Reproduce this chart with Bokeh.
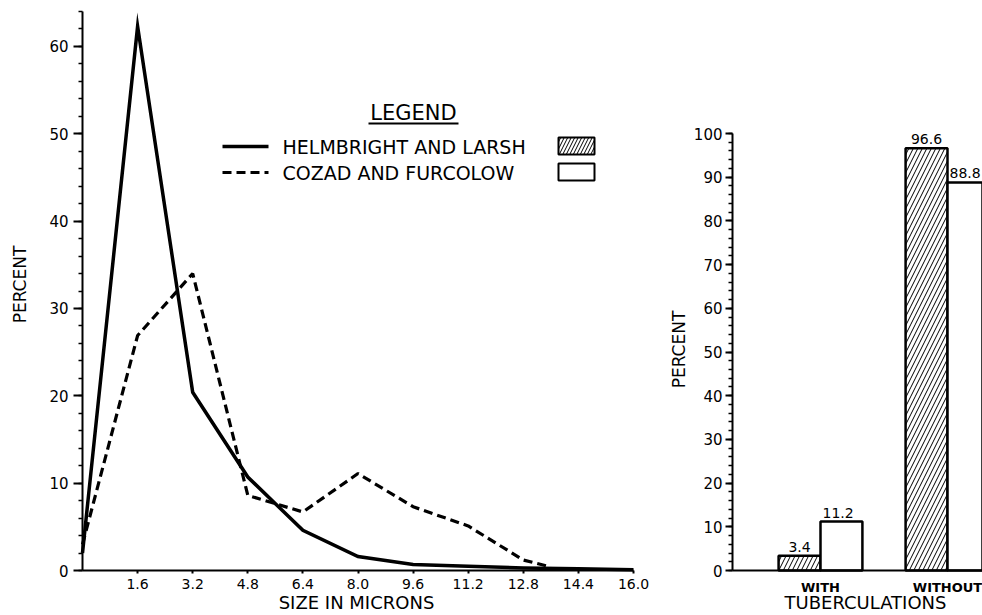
import math
from bokeh.plotting import figure
from bokeh.layouts import row
from bokeh.models import (FixedTicker, Range1d, ColumnDataSource, CustomJSTickFormatter)
from bokeh.core.properties import value
from bokeh.embed import file_html
from bokeh.resources import INLINE

# ---------------- data ----------------
SIZE_TICKS = [1.6, 3.2, 4.8, 6.4, 8.0, 9.6, 11.2, 12.8, 14.4, 16.0]
PCT_TICKS_LEFT = [0, 10, 20, 30, 40, 50, 60]
PCT_TICKS_RIGHT = [0, 10, 20, 30, 40, 50, 60, 70, 80, 90, 100]

HL_SIZE = [0.0, 1.6, 3.2, 4.8, 6.4, 8.0, 9.6, 11.2, 12.8, 14.4, 16.0]
HL_PCT = [2.0, 62.3, 20.4, 10.7, 4.6, 1.6, 0.7, 0.5, 0.3, 0.2, 0.1]

CF_SIZE = [0.0, 1.6, 3.2, 4.8, 6.4, 8.0, 9.6, 11.2, 12.8, 13.6]
CF_PCT = [3.0, 26.9, 34.0, 8.6, 6.7, 11.1, 7.3, 5.1, 1.2, 0.4]

GROUPS = ["WITH", "WITHOUT"]
GROUP_POS = [1, 2]
HL_TUB = [3.4, 96.6]
CF_TUB = [11.2, 88.8]

SERIES_NAMES = ["HELMBRIGHT AND LARSH", "COZAD AND FURCOLOW"]
X_TITLE_LEFT = "SIZE IN MICRONS"
X_TITLE_RIGHT = "TUBERCULATIONS"
Y_TITLE = "PERCENT"

FONT = "DejaVu Sans"
H = 615

# ---------------- left chart (frame = whole figure; axes drawn at fixed spots) ----------------
W1 = 660
PX_X0, PX_X16 = 82, 633        # pixel x of size 0 and 16
PX_Y0, PX_Y64 = 570, 11        # pixel y of percent 0 and 64
sx1 = (PX_X16 - PX_X0) / 16.0
sy1 = (PX_Y0 - PX_Y64) / 64.0
X1 = (-PX_X0 / sx1, 16 + (W1 - PX_X16) / sx1)
Y1 = (-(H - PX_Y0) / sy1, 64 + PX_Y64 / sy1)

p1 = figure(width=W1, height=H, x_range=Range1d(*X1), y_range=Range1d(*Y1),
            output_backend="svg", toolbar_location=None,
            min_border=0, min_border_left=0, min_border_right=0,
            min_border_top=0, min_border_bottom=0)
p1.outline_line_color = None
p1.grid.visible = False

def lx(px):
    return X1[0] + px / sx1
def ly(py):
    return Y1[1] - py / sy1

p1.line(HL_SIZE, HL_PCT, line_color="black", line_width=3.5, line_join="miter")
p1.line(CF_SIZE, CF_PCT, line_color="black", line_width=3.2, line_dash="9 5")

xa = p1.xaxis[0]
xa.fixed_location = 0
xa.bounds = (0, 16)
xa.ticker = FixedTicker(ticks=SIZE_TICKS)
xa.formatter = CustomJSTickFormatter(code="return tick.toFixed(1)")
xa.major_tick_out = 3
xa.major_tick_in = 0
xa.major_label_standoff = 5

ya = p1.yaxis[0]
ya.fixed_location = 0
ya.bounds = (0, 64)
ya.ticker = FixedTicker(ticks=PCT_TICKS_LEFT, minor_ticks=list(range(0, 65, 2)))
ya.major_tick_out = 9
ya.major_tick_in = 0
ya.minor_tick_out = 4
ya.minor_tick_in = 0
ya.major_label_standoff = 5

p1.text(x=[lx(356)], y=[ly(602)], text=[X_TITLE_LEFT], text_font=value(FONT),
        text_font_size="18px", text_align="center", text_baseline="middle",
        text_color="black")
p1.text(x=[lx(19)], y=[ly(284)], text=[Y_TITLE], text_font=value(FONT),
        text_font_size="17px", text_align="center", text_baseline="middle",
        angle=math.pi / 2, text_color="black")

# legend (hand-drawn, as in the original)
p1.text(x=[lx(413)], y=[ly(112)], text=["LEGEND"], text_font=value(FONT),
        text_font_size="21px", text_align="center", text_baseline="middle",
        text_color="black")
p1.line([lx(368), lx(458)], [ly(123), ly(123)], line_color="black", line_width=1.8)

row1, row2 = 146, 172
p1.line([lx(222), lx(268)], [ly(row1), ly(row1)], line_color="black", line_width=3.5)
p1.line([lx(222), lx(268)], [ly(row2), ly(row2)], line_color="black", line_width=3.2,
        line_dash="9 5")
p1.text(x=[lx(282), lx(282)], y=[ly(row1), ly(row2)], text=SERIES_NAMES,
        text_font=value(FONT), text_font_size="19px", text_align="left",
        text_baseline="middle", text_color="black")
p1.quad(left=[lx(558)], right=[lx(594)], top=[ly(row1 - 9)], bottom=[ly(row1 + 8)],
        fill_color="white", line_color="black", line_width=2,
        hatch_pattern="/", hatch_color="black", hatch_scale=7, hatch_weight=1)
p1.quad(left=[lx(558)], right=[lx(594)], top=[ly(row2 - 9)], bottom=[ly(row2 + 8)],
        fill_color="white", line_color="black", line_width=2)

# ---------------- right chart ----------------
W2 = 322
PX_G1, PX_G2 = 160, 287        # local pixel x of the two group centres
PX_AX = 72                     # local pixel x of the y axis
PX_B0, PX_B100 = 570, 133      # pixel y of percent 0 and 100
sx2 = (PX_G2 - PX_G1) / 1.0
sy2 = (PX_B0 - PX_B100) / 100.0
X2 = (1 - PX_G1 / sx2, 1 + (W2 - PX_G1) / sx2)
Y2 = (-(H - PX_B0) / sy2, 100 + PX_B100 / sy2)
AX2 = 1 - (PX_G1 - PX_AX) / sx2

p2 = figure(width=W2, height=H, x_range=Range1d(*X2), y_range=Range1d(*Y2),
            output_backend="svg", toolbar_location=None,
            min_border=0, min_border_left=0, min_border_right=0,
            min_border_top=0, min_border_bottom=0)
p2.outline_line_color = None
p2.grid.visible = False

def rx(px):
    return X2[0] + px / sx2
def ry(py):
    return Y2[1] - py / sy2

BW = 0.33
hl_x = [g - BW / 2 for g in GROUP_POS]
cf_x = [g + BW / 2 for g in GROUP_POS]
src_hl = ColumnDataSource(dict(x=hl_x, top=HL_TUB, label=[f"{v:.1f}" for v in HL_TUB],
                               lx=hl_x))
src_cf = ColumnDataSource(dict(x=cf_x, top=CF_TUB, label=[f"{v:.1f}" for v in CF_TUB],
                               lx=list(GROUP_POS)))

p2.vbar(x="x", top="top", width=BW, source=src_hl, fill_color="white",
        line_color="black", line_width=2.5, hatch_pattern="/", hatch_color="black",
        hatch_scale=9, hatch_weight=1)
p2.vbar(x="x", top="top", width=BW, source=src_cf, fill_color="white",
        line_color="black", line_width=2.5)
p2.text(x="lx", y="top", text="label", source=src_hl, text_font=value(FONT),
        text_font_size="14px", text_align="center", text_baseline="bottom",
        y_offset=-4, text_color="black")
p2.text(x="lx", y="top", text="label", source=src_cf, text_font=value(FONT),
        text_font_size="14px", text_align="left", text_baseline="bottom",
        x_offset=2, y_offset=-4, text_color="black")

xb = p2.xaxis[0]
xb.fixed_location = 0
xb.bounds = (AX2, X2[1])
xb.ticker = FixedTicker(ticks=GROUP_POS)
xb.major_label_overrides = {g: n for g, n in zip(GROUP_POS, GROUPS)}
xb.major_tick_out = 0
xb.major_tick_in = 0
xb.major_label_standoff = 9

yb = p2.yaxis[0]
yb.fixed_location = AX2
yb.bounds = (0, 100)
yb.ticker = FixedTicker(ticks=PCT_TICKS_RIGHT, minor_ticks=list(range(0, 101, 2)))
yb.major_tick_out = 7
yb.major_tick_in = 0
yb.minor_tick_out = 4
yb.minor_tick_in = 0
yb.major_label_standoff = 3

p2.text(x=[rx(205)], y=[ry(602)], text=[X_TITLE_RIGHT], text_font=value(FONT),
        text_font_size="18px", text_align="center", text_baseline="middle",
        text_color="black")
p2.text(x=[rx(18)], y=[ry(349)], text=[Y_TITLE], text_font=value(FONT),
        text_font_size="17px", text_align="center", text_baseline="middle",
        angle=math.pi / 2, text_color="black")

for ax in (xa, ya, xb, yb):
    ax.axis_line_color = "black"
    ax.axis_line_width = 2
    ax.major_tick_line_color = "black"
    ax.major_tick_line_width = 2
    ax.minor_tick_line_color = "black"
    ax.minor_tick_line_width = 1.5
    ax.major_label_text_font = FONT
    ax.major_label_text_font_size = "15px"
    ax.major_label_text_color = "black"
xa.major_label_text_font_size = "14px"
xb.major_label_text_font_size = "13px"
xb.major_label_text_font_style = "bold"

layout = row(p1, p2)
open("out.html", "w").write(file_html(layout, INLINE))
